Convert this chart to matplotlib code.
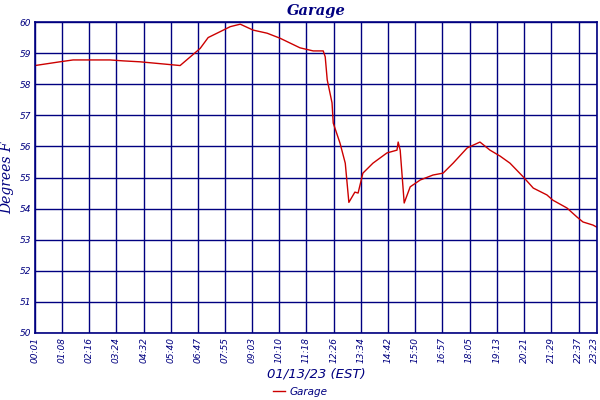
import matplotlib
matplotlib.use("Agg")
import matplotlib.pyplot as plt
import matplotlib.transforms as mtransforms

# readings (time of day, degrees F)
times = ["00:01", "01:03", "01:36", "03:08", "03:41", "04:23", "05:30", "06:03",
         "06:53", "07:13", "07:43", "08:08", "08:33", "09:05", "09:40", "10:12",
         "11:02", "11:35", "12:00", "12:05", "12:10", "12:22", "12:25", "12:42",
         "12:55", "13:04", "13:19", "13:27", "13:39", "14:04", "14:39", "15:04",
         "15:07", "15:12", "15:22", "15:37", "16:02", "16:34", "16:59", "17:24",
         "17:59", "18:31", "18:56", "19:21", "19:46", "20:19", "20:44", "21:18",
         "21:33", "22:08", "22:33", "22:48", "23:13", "23:23"]
temps = [58.60, 58.72, 58.78, 58.78, 58.75, 58.72, 58.64, 58.60,
         59.15, 59.50, 59.69, 59.85, 59.93, 59.74, 59.64, 59.48,
         59.17, 59.07, 59.07, 58.88, 58.14, 57.40, 56.75, 56.10,
         55.46, 54.20, 54.53, 54.50, 55.14, 55.46, 55.79, 55.88,
         56.14, 55.88, 54.18, 54.70, 54.92, 55.08, 55.14, 55.46,
         55.95, 56.14, 55.88, 55.69, 55.46, 55.02, 54.66, 54.44,
         54.27, 54.02, 53.73, 53.57, 53.47, 53.40]

xtick_labels = ["00:01", "01:08", "02:16", "03:24", "04:32", "05:40", "06:47",
                "07:55", "09:03", "10:10", "11:18", "12:26", "13:34", "14:42",
                "15:50", "16:57", "18:05", "19:13", "20:21", "21:29", "22:37", "23:23"]
ytick_values = [50, 51, 52, 53, 54, 55, 56, 57, 58, 59, 60]


def to_min(t):
    h, m = t.split(":")
    return int(h) * 60 + int(m)


navy = "#000080"
x = [to_min(t) for t in times]
xt = [to_min(t) for t in xtick_labels]

fig = plt.figure(figsize=(6, 4), dpi=100)
ax = fig.add_axes([35 / 600, 1 - 333 / 400, 562 / 600, 311 / 400])

line, = ax.plot(x, temps, color="#cc0000", lw=1, label="Garage")

ax.set_xlim(xt[0], xt[-1])
ax.set_ylim(50, 60)
ax.set_xticks(xt)
ax.set_xticklabels(xtick_labels, rotation=90, fontsize=6.5, style="italic", color=navy)
ax.set_yticks(ytick_values)
ax.set_yticklabels([str(v) for v in ytick_values], fontsize=6.5, style="italic", color=navy)
ax.tick_params(length=0, pad=3)
ax.grid(True, color=navy, lw=1)
for s in ax.spines.values():
    s.set_color(navy)
    s.set_linewidth(1.2)

# nudge the last time label so it stays inside the picture
last = ax.get_xticklabels()[-1]
last.set_transform(last.get_transform() +
                   mtransforms.ScaledTranslation(-3 / 100, 0, fig.dpi_scale_trans))

ax.set_title("Garage", fontsize=10.5, fontweight="bold", style="italic",
             family="DejaVu Serif", color=navy, pad=5)
ax.set_ylabel("Degrees F", fontsize=10, style="italic", family="DejaVu Serif",
              color=navy, labelpad=4)
ax.set_xlabel("01/13/23 (EST)", fontsize=9.5, style="italic", color=navy, labelpad=3)

leg = fig.legend(handles=[line], loc="lower center", bbox_to_anchor=(0.5, -0.015),
                 frameon=False, handlelength=1.2, handletextpad=0.4,
                 prop={"size": 7.5, "style": "italic"})
for t in leg.get_texts():
    t.set_color(navy)

fig.savefig("out.png", dpi=100)
